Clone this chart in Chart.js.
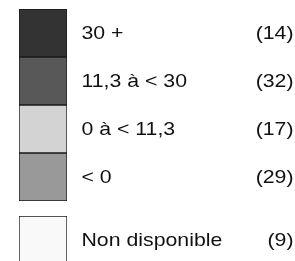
<!DOCTYPE html>
<html>
<head>
<meta charset="utf-8">
<script src="https://cdn.jsdelivr.net/npm/chart.js@4.4.0/dist/chart.umd.min.js"></script>
<style>
  html, body { margin: 0; padding: 0; background: #fff; overflow: hidden; }
  #wrap { position: relative; width: 295px; height: 261px; overflow: hidden; }
  #c1 { position: absolute; left: 0; top: 0; }
  #c2 { position: absolute; left: 0; top: 207px; }
</style>
</head>
<body>
<div id="wrap">
  <canvas id="c1" width="295" height="210"></canvas>
  <canvas id="c2" width="295" height="60"></canvas>
</div>
<script>
// classes de la légende
var classes = ['30 +', '11,3 à < 30', '0 à < 11,3', '< 0'];
var effectifs = [14, 32, 17, 29];
var couleurs = ['#333333', '#585858', '#d3d3d3', '#999999'];

// classe à part
var classeNA = ['Non disponible'];
var effectifNA = [9];
var couleurNA = ['#f9f9f9'];

var etirement = 1.12; // le texte de l'original est un peu élargi

// écrit le libellé et l'effectif à droite de chaque case
var textesLegende = {
    id: 'textesLegende',
    afterDatasetsDraw: function (chart, args, opts) {
        var ctx = chart.ctx;
        var meta = chart.getDatasetMeta(0);
        ctx.save();
        ctx.fillStyle = '#111';
        ctx.font = '19px "Liberation Sans", Arial, sans-serif';
        ctx.textBaseline = 'middle';
        meta.data.forEach(function (barre, i) {
            var y = barre.y + 1;
            ctx.save();
            ctx.translate(chart.chartArea.right + 14.5, y);
            ctx.scale(etirement, 1);
            ctx.textAlign = 'left';
            ctx.fillText(opts.libelles[i], 0, 0);
            ctx.restore();

            ctx.save();
            ctx.translate(chart.width - 1.5, y);
            ctx.scale(etirement, 1);
            ctx.textAlign = 'right';
            ctx.fillText('(' + opts.nombres[i] + ')', 0, 0);
            ctx.restore();
        });
        ctx.restore();
    }
};

function configLegende(libelles, nombres, fonds, basPadding) {
    return {
        type: 'bar',
        data: {
            labels: libelles,
            datasets: [{
                data: libelles.map(function () { return 1; }),
                backgroundColor: fonds,
                borderColor: '#1a1a1a',
                borderWidth: 1,
                borderSkipped: false,
                barPercentage: 1,
                categoryPercentage: 1
            }]
        },
        options: {
            indexAxis: 'y',
            responsive: false,
            animation: false,
            layout: {
                padding: { left: 19, right: 228, top: 9, bottom: basPadding }
            },
            scales: {
                x: { display: false, min: 0, max: 1 },
                y: { display: false, offset: true }
            },
            plugins: {
                legend: { display: false },
                tooltip: { enabled: false },
                textesLegende: { libelles: libelles, nombres: nombres }
            }
        },
        plugins: [textesLegende]
    };
}

new Chart(document.getElementById('c1'), configLegende(classes, effectifs, couleurs, 9));
new Chart(document.getElementById('c2'), configLegende(classeNA, effectifNA, couleurNA, 3));
</script>
</body>
</html>
